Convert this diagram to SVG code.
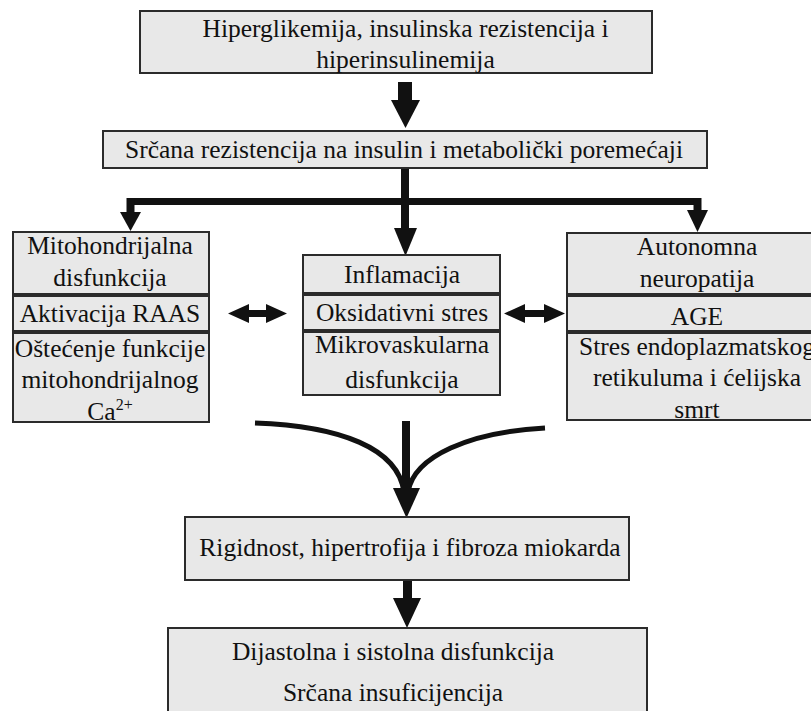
<svg xmlns="http://www.w3.org/2000/svg" width="811" height="711" viewBox="0 0 811 711">
<style>
  .box { fill: #e8e8e8; stroke: #2b2b2b; stroke-width: 2; }
  text { font-family: 'Liberation Serif', 'Times New Roman', Tinos, 'DejaVu Serif', serif; font-size: 25.5px; fill: #111; text-anchor: middle; }
  .ln { fill: none; stroke: #111; stroke-linecap: butt; }
  .ah { fill: #111; }
</style>
<rect width="811" height="711" fill="#fff"/>

<g id="connectors">
  <line class="ln" x1="405" y1="82" x2="405" y2="102" stroke-width="14"/>
  <polygon class="ah" points="391,100 420,100 405.5,128"/>
  <line class="ln" x1="405" y1="168" x2="405" y2="230" stroke-width="8"/>
  <line class="ln" x1="127" y1="201.5" x2="701" y2="201.5" stroke-width="7"/>
  <line class="ln" x1="130.5" y1="198" x2="130.5" y2="214" stroke-width="8"/>
  <polygon class="ah" points="120,212 141,212 130.5,231"/>
  <line class="ln" x1="697.5" y1="198" x2="697.5" y2="212" stroke-width="8"/>
  <polygon class="ah" points="687,210 708,210 697.5,232"/>
  <polygon class="ah" points="394,228 417,228 405.5,256"/>
  <polygon class="ah" points="228,313.5 249,304 249,310 266,310 266,304 287,313.5 266,323 266,317 249,317 249,323"/>
  <polygon class="ah" points="504,313.5 525,304 525,310 544,310 544,304 565,313.5 544,323 544,317 525,317 525,323"/>
  <path class="ln" d="M255,423 C340,426 398,448 404,492" stroke-width="5"/>
  <path class="ln" d="M545,428 C470,432 414,456 408,492" stroke-width="5"/>
  <line class="ln" x1="406" y1="421" x2="406" y2="492" stroke-width="8"/>
  <polygon class="ah" points="393,488 420,488 406.5,518"/>
  <line class="ln" x1="407.5" y1="580" x2="407.5" y2="600" stroke-width="9"/>
  <polygon class="ah" points="393,598 421,598 407,628"/>
</g>

<g id="n-top">
  <rect class="box" x="140" y="11" width="512" height="62"/>
  <text x="405.5" y="37">Hiperglikemija, insulinska rezistencija i</text>
  <text x="405.5" y="68">hiperinsulinemija</text>
</g>

<g id="n-srcana">
  <rect class="box" x="103" y="131" width="604" height="37"/>
  <text x="404" y="158">Srčana rezistencija na insulin i metabolički poremećaji</text>
</g>

<g id="n-left">
  <rect class="box" x="13" y="232" width="196" height="62"/>
  <text x="110" y="254">Mitohondrijalna</text>
  <text x="110" y="286">disfunkcija</text>
  <rect class="box" x="13" y="296" width="196" height="35"/>
  <text x="110" y="322">Aktivacija RAAS</text>
  <rect class="box" x="13" y="333" width="196" height="89"/>
  <text x="110" y="357">Oštećenje funkcije</text>
  <text x="110" y="388">mitohondrijalnog</text>
  <text x="110" y="420">Ca<tspan font-size="16" dy="-10">2+</tspan></text>
</g>

<g id="n-center">
  <rect class="box" x="303" y="255" width="197" height="38"/>
  <text x="402" y="283">Inflamacija</text>
  <rect class="box" x="303" y="295" width="197" height="35"/>
  <text x="402" y="321">Oksidativni stres</text>
  <rect class="box" x="303" y="332" width="197" height="63"/>
  <text x="402" y="353">Mikrovaskularna</text>
  <text x="402" y="388">disfunkcija</text>
</g>

<g id="n-right">
  <rect class="box" x="567" y="233" width="262" height="61"/>
  <text x="697" y="255">Autonomna</text>
  <text x="697" y="287">neuropatija</text>
  <rect class="box" x="567" y="296" width="262" height="35"/>
  <text x="697" y="325">AGE</text>
  <rect class="box" x="567" y="333" width="262" height="87"/>
  <text x="697" y="355">Stres endoplazmatskog</text>
  <text x="697" y="386">retikuluma i ćelijska</text>
  <text x="697" y="418">smrt</text>
</g>

<g id="n-rigidnost">
  <rect class="box" x="185" y="517" width="444" height="63"/>
  <text x="410" y="556">Rigidnost, hipertrofija i fibroza miokarda</text>
</g>

<g id="n-bottom">
  <rect class="box" x="168" y="628" width="479" height="100"/>
  <text x="393" y="660">Dijastolna i sistolna disfunkcija</text>
  <text x="393" y="701">Srčana insuficijencija</text>
</g>
</svg>
